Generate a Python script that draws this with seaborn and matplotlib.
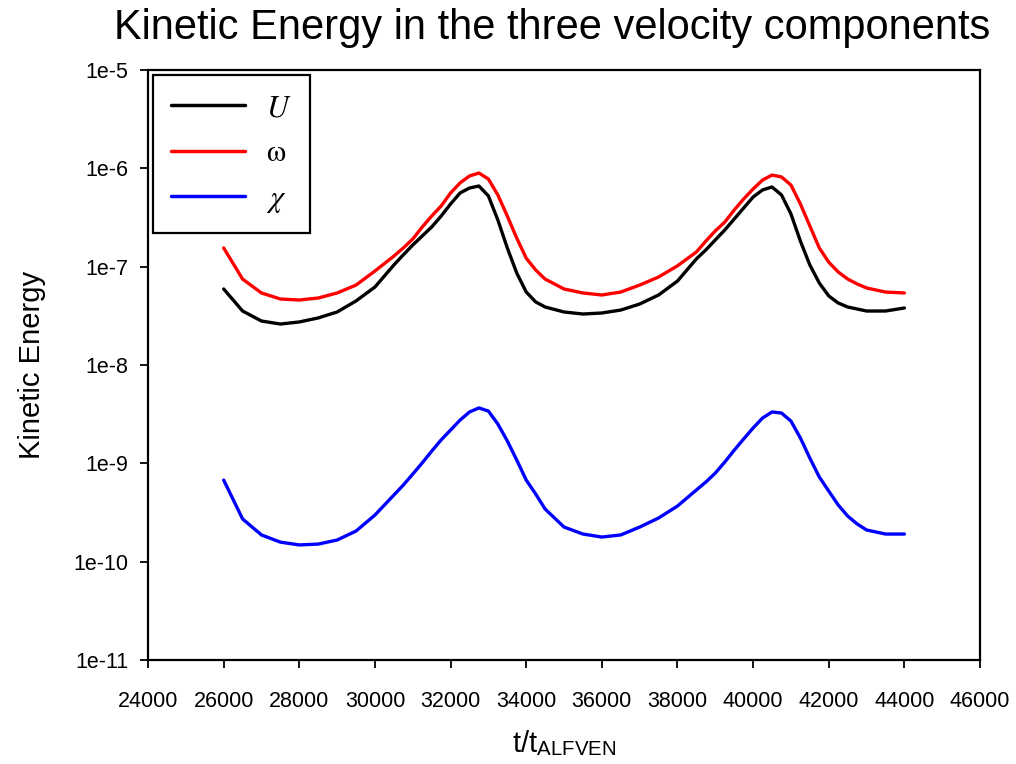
"""
Kinetic energy in the three velocity components (U, omega, chi)
log-scale time series, recreated with seaborn.
"""
import numpy as np
import pandas as pd
import matplotlib
matplotlib.use('Agg')
import matplotlib.pyplot as plt
import seaborn as sns

# ============================================================================
# DATA
# ============================================================================
time = [26000, 26500, 27000, 27500, 28000, 28500, 29000, 29500, 30000,
        30500, 30750, 31000, 31250, 31500, 31750, 32000, 32250, 32500, 32750,
        33000, 33250, 33500, 33750, 34000, 34250, 34500,
        35000, 35500, 36000, 36500, 37000, 37500, 38000,
        38500, 38750, 39000, 39250, 39500, 39750, 40000, 40250, 40500, 40750,
        41000, 41250, 41500, 41750, 42000, 42250, 42500, 42750,
        43000, 43500, 44000]

ke_u = [5.93e-8, 3.54e-8, 2.80e-8, 2.61e-8, 2.74e-8, 3.01e-8, 3.46e-8, 4.48e-8, 6.21e-8,
        1.04e-7, 1.32e-7, 1.66e-7, 2.05e-7, 2.53e-7, 3.27e-7, 4.34e-7, 5.61e-7, 6.31e-7, 6.61e-7,
        5.24e-7, 2.98e-7, 1.55e-7, 8.61e-8, 5.52e-8, 4.38e-8, 3.89e-8,
        3.46e-8, 3.30e-8, 3.38e-8, 3.62e-8, 4.17e-8, 5.15e-8, 7.14e-8,
        1.20e-7, 1.48e-7, 1.87e-7, 2.36e-7, 3.05e-7, 3.95e-7, 5.11e-7, 6.03e-7, 6.46e-7, 5.36e-7,
        3.44e-7, 1.82e-7, 1.04e-7, 6.82e-8, 5.04e-8, 4.27e-8, 3.89e-8, 3.71e-8,
        3.54e-8, 3.54e-8, 3.80e-8]

ke_omega = [1.55e-7, 7.48e-8, 5.40e-8, 4.69e-8, 4.58e-8, 4.80e-8, 5.40e-8, 6.50e-8, 9.03e-8,
            1.28e-7, 1.55e-7, 1.91e-7, 2.53e-7, 3.27e-7, 4.14e-7, 5.61e-7, 7.10e-7, 8.36e-7, 8.96e-7,
            7.78e-7, 5.36e-7, 3.27e-7, 1.95e-7, 1.22e-7, 9.25e-8, 7.48e-8,
            5.93e-8, 5.40e-8, 5.15e-8, 5.52e-8, 6.50e-8, 7.85e-8, 1.02e-7,
            1.41e-7, 1.82e-7, 2.31e-7, 2.84e-7, 3.77e-7, 4.88e-7, 6.17e-7, 7.60e-7, 8.55e-7, 8.17e-7,
            6.76e-7, 4.34e-7, 2.59e-7, 1.55e-7, 1.11e-7, 8.83e-8, 7.48e-8, 6.67e-8,
            6.07e-8, 5.52e-8, 5.40e-8]

ke_chi = [6.76e-10, 2.72e-10, 1.87e-10, 1.58e-10, 1.48e-10, 1.51e-10, 1.66e-10, 2.05e-10, 2.98e-10,
          4.76e-10, 6.01e-10, 7.78e-10, 1.01e-9, 1.33e-9, 1.73e-9, 2.18e-9, 2.75e-9, 3.33e-9, 3.66e-9,
          3.40e-9, 2.51e-9, 1.69e-9, 1.08e-9, 6.76e-10, 4.88e-10, 3.43e-10,
          2.25e-10, 1.91e-10, 1.78e-10, 1.87e-10, 2.25e-10, 2.78e-10, 3.68e-10,
          5.36e-10, 6.46e-10, 7.96e-10, 1.03e-9, 1.36e-9, 1.77e-9, 2.29e-9, 2.89e-9, 3.33e-9, 3.25e-9,
          2.69e-9, 1.81e-9, 1.13e-9, 7.26e-10, 5.22e-10, 3.77e-10, 2.91e-10, 2.42e-10,
          2.10e-10, 1.91e-10, 1.91e-10]

components = ['$U$', r'$\mathrm{\omega}$', r'$\chi$']
colors = ['black', '#ff0000', '#0000ff']

x_ticks = list(range(24000, 46001, 2000))
y_ticks = [1e-11, 1e-10, 1e-9, 1e-8, 1e-7, 1e-6, 1e-5]
y_tick_labels = ['1e-11', '1e-10', '1e-9', '1e-8', '1e-7', '1e-6', '1e-5']

df = pd.DataFrame({
    't': time * 3,
    'ke': ke_u + ke_omega + ke_chi,
    'component': [components[0]] * len(time) + [components[1]] * len(time)
                 + [components[2]] * len(time),
})

# ============================================================================
# STYLE
# ============================================================================
sns.set_style('ticks')
plt.rcParams['font.family'] = ['Liberation Sans', 'DejaVu Sans']
plt.rcParams['mathtext.fontset'] = 'stix'
plt.rcParams['text.color'] = 'black'
plt.rcParams['axes.labelcolor'] = 'black'
plt.rcParams['xtick.color'] = 'black'
plt.rcParams['ytick.color'] = 'black'

fig = plt.figure(figsize=(10.16, 7.64), dpi=100)
ax = fig.add_axes([0.1457, 0.1361, 0.8189, 0.7723])

sns.lineplot(data=df, x='t', y='ke', hue='component', hue_order=components,
             palette=dict(zip(components, colors)), linewidth=2.4, ax=ax,
             estimator=None, sort=False)

ax.set_yscale('log')
ax.set_xlim(24000, 46000)
ax.set_ylim(1e-11, 1e-5)
ax.set_xticks(x_ticks)
ax.set_xticklabels([str(t) for t in x_ticks], fontsize=15.5)
ax.set_yticks(y_ticks)
ax.set_yticklabels(y_tick_labels, fontsize=15.5)
ax.yaxis.set_minor_locator(matplotlib.ticker.NullLocator())
ax.tick_params(axis='both', direction='out', length=6, width=1.3,
               top=False, right=False, pad=8)
ax.tick_params(axis='x', pad=16)

for side in ['top', 'bottom', 'left', 'right']:
    ax.spines[side].set_visible(True)
    ax.spines[side].set_linewidth(1.6)
    ax.spines[side].set_color('black')

ax.set_xlabel('t/t$_{\\mathregular{ALFVEN}}$', fontsize=21, labelpad=12)
ax.set_ylabel('Kinetic Energy', fontsize=21, labelpad=20)
fig.suptitle('Kinetic Energy in the three velocity components', fontsize=30,
             x=0.543, y=0.99)

handles, labels = ax.get_legend_handles_labels()
leg = ax.legend(handles, labels, loc='upper left', bbox_to_anchor=(0.006, 0.992),
                borderaxespad=0, fontsize=22, handlelength=2.4, handletextpad=0.7,
                labelspacing=0.5, borderpad=0.6, fancybox=False, framealpha=1)
leg.get_frame().set_edgecolor('black')
leg.get_frame().set_linewidth(1.6)
for line in leg.get_lines():
    line.set_linewidth(2.5)

plt.savefig('out.png', dpi=100)
plt.close()
